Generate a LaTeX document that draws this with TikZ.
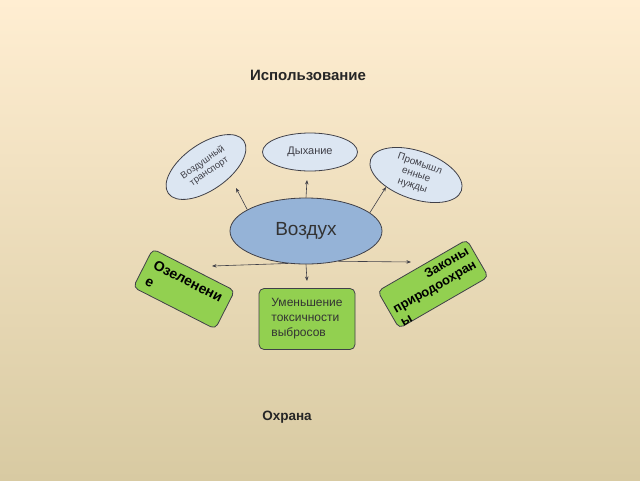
\documentclass[tikz,border=0pt]{standalone}
\usepackage{fontspec}
\setmainfont{Liberation Sans}
\usetikzlibrary{arrows.meta,shapes.geometric}

\definecolor{bgtop}{RGB}{255,238,210}
\definecolor{bgbottom}{RGB}{216,202,162}
\definecolor{airblue}{RGB}{149,179,215}
\definecolor{paleblue}{RGB}{220,230,242}
\definecolor{leafgreen}{RGB}{146,208,80}
\definecolor{edgegray}{RGB}{64,64,72}

\begin{document}
\begin{tikzpicture}[x=1pt,y=-1pt]
	\tikzstyle{myellipse}=[ellipse, draw=edgegray, line width=0.8pt, fill=paleblue, text=edgegray, align=center, inner sep=0pt]
	\tikzstyle{mybox}=[draw=edgegray, line width=0.8pt, fill=leafgreen, rounded corners=5pt, inner sep=0pt]
	% thin arrows with small heads
	\tikzstyle{myarrow}=[-{Stealth[length=4.5pt,width=3.5pt]}, draw=edgegray, line width=0.6pt]
	\tikzstyle{mytitle}=[font=\fontsize{15}{18}\selectfont\bfseries, text=black!85]

	\fill[top color=bgtop, bottom color=bgbottom] (0,0) rectangle (640,480);
	\useasboundingbox (0,0) rectangle (640,480);

	\node[mytitle] (use) at (308,75) {Использование};
	\node[mytitle, font=\fontsize{13.5}{16}\selectfont\bfseries] (protect) at (287,417) {Охрана};

	\node[myellipse, fill=airblue, minimum width=152pt, minimum height=66pt, font=\fontsize{19}{22}\selectfont, text=black!80] (air) at (306,231) {Воздух};

	\node[myellipse, rotate=35, minimum width=92pt, minimum height=46pt, font=\fontsize{9.5}{11}\selectfont] (transport) at (206,167) {Воздушный\\транспорт};
	\node[myellipse, minimum width=95pt, minimum height=38pt, font=\fontsize{11}{13}\selectfont] (breath) at (310,152) {Дыхание};
	\node[myellipse, rotate=-19, minimum width=96pt, minimum height=48pt, font=\fontsize{10}{11.5}\selectfont] (industry) at (416,175) {Промышл\\енные\\нужды};

	\node[mybox, rotate=-27, minimum width=92pt, minimum height=43pt, align=left, font=\fontsize{14}{18}\selectfont\bfseries] (greening) at (184,289) {Озеленени\\е};
	\node[mybox, minimum width=96pt, minimum height=61pt, align=left, text=black!80, font=\fontsize{12}{15}\selectfont] (toxic) at (307,319) {Уменьшение\\токсичности\\выбросов};
	\node[mybox, rotate=30, minimum width=103pt, minimum height=43pt, inner ysep=-1pt, align=left, font=\fontsize{13}{15}\selectfont\bfseries] (laws) at (433,284) {\rule{0pt}{15pt}\hphantom{природоохран}\llap{Законы}\\природоохран\\ы};

	\coordinate (tipA) at (236,188);
	\coordinate (tipB) at (307,180);
	\coordinate (tipC) at (386,187);
	\coordinate (tipD) at (212,266);
	\coordinate (tipE) at (307,281);
	\coordinate (tipF) at (411,262);

	\draw[myarrow] (air.160) -- (tipA);
	\draw[myarrow] (air.north) -- (tipB);
	\draw[myarrow] (air.16) -- (tipC);
	\draw[myarrow] (air.241) -- (tipD);
	\draw[myarrow] (air.south) -- (tipE);
	\draw[myarrow] (air.317) -- (tipF);
\end{tikzpicture}
\end{document}
